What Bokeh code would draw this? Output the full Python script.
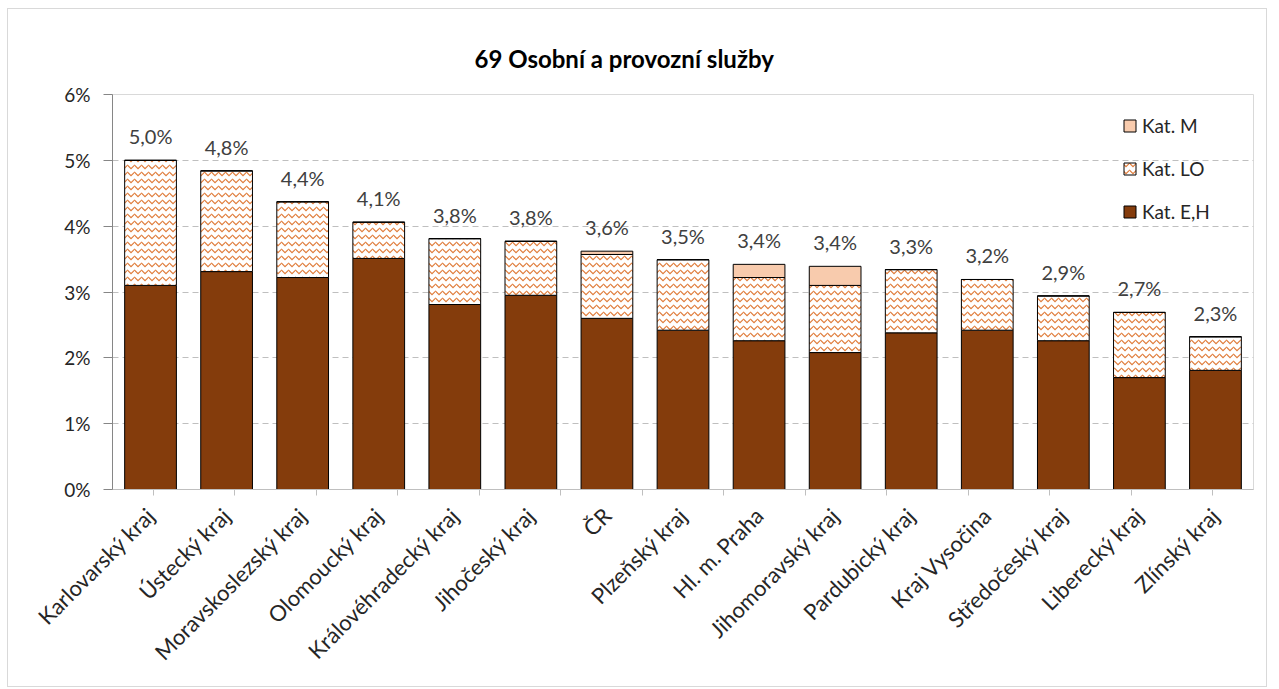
from math import pi
from bokeh.plotting import figure
from bokeh.models import (ColumnDataSource, FactorRange, Range1d, CategoricalAxis,
                          FixedTicker, PrintfTickFormatter, Legend, LegendItem, LabelSet,
                          CustomLabelingPolicy)
from bokeh.transform import stack
from bokeh.core.properties import value
from bokeh.embed import file_html
from bokeh.resources import INLINE

categories = ["Karlovarský kraj", "Ústecký kraj", "Moravskoslezský kraj", "Olomoucký kraj",
              "Královéhradecký kraj", "Jihočeský kraj", "ČR", "Plzeňský kraj", "Hl. m. Praha",
              "Jihomoravský kraj", "Pardubický kraj", "Kraj Vysočina", "Středočeský kraj",
              "Liberecký kraj", "Zlínský kraj"]
kat_eh = [3.10, 3.31, 3.22, 3.51, 2.81, 2.95, 2.60, 2.42, 2.26, 2.08, 2.38, 2.42, 2.26, 1.70, 1.81]
kat_lo = [1.90, 1.53, 1.15, 0.55, 1.00, 0.82, 0.97, 1.07, 0.96, 1.02, 0.96, 0.77, 0.68, 0.99, 0.51]
kat_m = [0.00, 0.00, 0.00, 0.00, 0.00, 0.00, 0.05, 0.00, 0.20, 0.29, 0.00, 0.00, 0.00, 0.00, 0.00]
y_ticks = [0, 1, 2, 3, 4, 5, 6]

totals = [round(a + b + c, 2) for a, b, c in zip(kat_eh, kat_lo, kat_m)]
labels = [f"{t:.1f}".replace(".", ",") + "%" for t in totals]

source = ColumnDataSource(dict(cat=categories, eh=kat_eh, lo=kat_lo, m=kat_m,
                               total=totals, label=labels))

FONT = "Lato"
TXT = "#262626"

p = figure(x_range=FactorRange(factors=categories, range_padding=0),
           y_range=Range1d(0, 6),
           width=1260, height=679, output_backend="svg", toolbar_location=None,
           x_axis_location=None,
           min_border_left=104, min_border_right=15, min_border_top=85, min_border_bottom=199,
           title="69 Osobní a provozní služby")
p.styles = {"border": "1px solid #d9d9d9", "margin-left": "7px", "margin-top": "8px"}
p.outline_line_color = "#d9d9d9"

p.title.align = "left"
p.title.offset = 362
p.title.standoff = 43
p.title.text_font = FONT
p.title.text_font_size = "24px"
p.title.text_font_style = "bold"
p.title.text_color = "#000000"

# y axis
p.yaxis.ticker = FixedTicker(ticks=y_ticks)
p.yaxis.formatter = PrintfTickFormatter(format="%d%%")
p.yaxis.axis_line_color = "#868686"
p.yaxis.major_tick_line_color = "#868686"
p.yaxis.major_tick_out = 9
p.yaxis.major_tick_in = 0
p.yaxis.minor_tick_line_color = None
p.yaxis.major_label_text_font = FONT
p.yaxis.major_label_text_font_size = "19px"
p.yaxis.major_label_text_color = TXT
p.yaxis.major_label_standoff = 13

p.xgrid.visible = False
p.ygrid.ticker = FixedTicker(ticks=y_ticks)
p.ygrid.grid_line_color = "#bfbfbf"
p.ygrid.grid_line_dash = "6 4"

W = 0.68
r_eh = p.vbar(x="cat", bottom=0, top=stack("eh"), width=W, source=source,
              fill_color="#843C0C", line_color="black", line_width=1)
r_lo = p.vbar(x="cat", bottom=stack("eh"), top=stack("eh", "lo"), width=W, source=source,
              fill_color="white", hatch_pattern="horizontal_wave", hatch_color="#E07B39",
              hatch_scale=7, hatch_weight=1.2, line_color="black", line_width=1)
r_m = p.vbar(x="cat", bottom=stack("eh", "lo"), top=stack("eh", "lo", "m"), width=W, source=source,
             fill_color="#F8CBAD", line_color="black", line_width=1)

lbl = LabelSet(x="cat", y="total", text="label", source=source, text_align="center",
               text_baseline="bottom", y_offset=12, text_font=value(FONT),
               text_font_size="20px", text_color="#404040")
p.add_layout(lbl)

# bottom axes: ticks at category boundaries (no labels) + category labels
boundaries = [str(i) for i in range(len(categories) + 1)]
p.extra_x_ranges = {"bounds": FactorRange(factors=boundaries, range_padding=-1,
                                          range_padding_units="absolute")}
tick_axis = CategoricalAxis(x_range_name="bounds",
                            major_tick_out=6, major_tick_in=0,
                            major_label_text_font_size="1px", major_label_standoff=0,
                            major_label_policy=CustomLabelingPolicy(
                                code="for (const i of indices) indices.unset(i)"),
                            axis_line_color="#bfbfbf", major_tick_line_color="#bfbfbf")
p.add_layout(tick_axis, "below")
cat_axis = CategoricalAxis(major_label_orientation=pi / 4, axis_line_color=None,
                           major_tick_line_color=None, major_label_text_font=FONT,
                           major_label_text_font_size="22px", major_label_text_color=TXT,
                           major_label_standoff=6)
p.add_layout(cat_axis, "below")

legend = Legend(items=[LegendItem(label="Kat. M", renderers=[r_m]),
                       LegendItem(label="Kat. LO", renderers=[r_lo]),
                       LegendItem(label="Kat. E,H", renderers=[r_eh])],
                location=(1010, 266), glyph_width=15, glyph_height=15,
                label_text_font=FONT, label_text_font_size="19px", label_text_color=TXT,
                label_height=22, spacing=20, padding=0, margin=0, label_standoff=5,
                border_line_color=None, background_fill_alpha=0)
p.add_layout(legend)

open("out.html", "w").write(file_html(p, INLINE))
